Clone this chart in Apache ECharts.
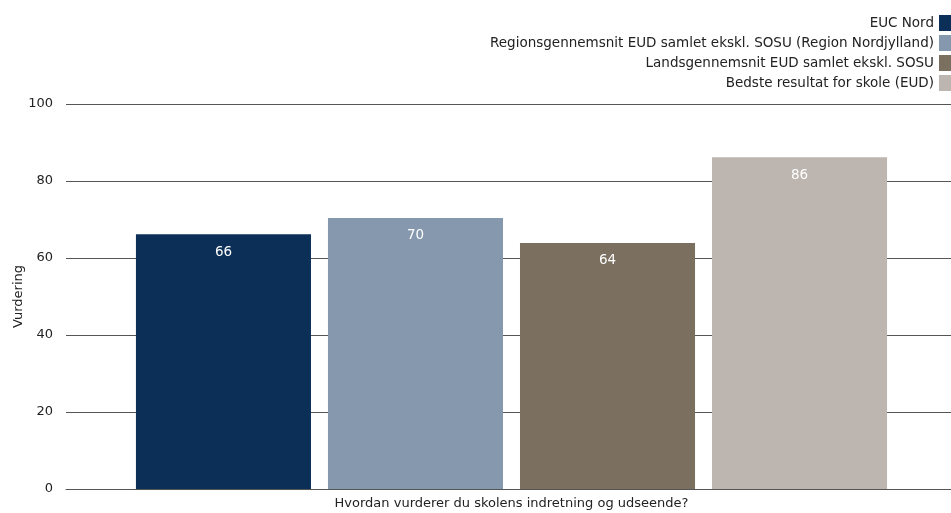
<!DOCTYPE html>
<html><head><meta charset="utf-8">
<script src="https://cdn.jsdelivr.net/npm/echarts@6/dist/echarts.min.js"></script>
<style>html,body{margin:0;padding:0;background:#fff}#c{width:951px;height:513px}</style>
</head><body><div id="c"></div>
<script>
const categories = ["Hvordan vurderer du skolens indretning og udseende?"];
const seriesNames = ["EUC Nord","Regionsgennemsnit EUD samlet ekskl. SOSU (Region Nordjylland)","Landsgennemsnit EUD samlet ekskl. SOSU","Bedste resultat for skole (EUD)"];
const seriesValues = [[66.2],[70.4],[63.9],[86.2]];
const seriesLabels = ["66","70","64","86"];
const colors = ["#0c2f57","#8598ad","#7b6f60","#bdb5af"];
const yTicks = [0,20,40,60,80,100];

const font = "Tahoma, 'DejaVu Sans', sans-serif";
const chart = echarts.init(document.getElementById('c'));
chart.setOption({
  animation:false,
  textStyle:{fontFamily:font},
  legend:{
    orient:'vertical', right:0, top:15, align:'right', padding:0,
    itemWidth:12, itemHeight:16, itemGap:4,
    icon:'rect',
    textStyle:{fontSize:13.5, color:'#222', fontFamily:font},
    data:seriesNames
  },
  grid:{left:66, right:-6, top:104, bottom:24, outerBoundsMode:'none', containLabel:false},
  xAxis:{
    type:'category', data:categories,
    axisLine:{lineStyle:{color:'#555'}},
    axisTick:{show:false},
    axisLabel:{color:'#222', fontSize:13, margin:8, fontFamily:font}
  },
  yAxis:{
    type:'value', min:yTicks[0], max:yTicks[yTicks.length-1], interval:20,
    name:'Vurdering', nameLocation:'middle', nameGap:41, nameMoveOverlap:false,
    nameTextStyle:{color:'#222', fontSize:13, fontFamily:font},
    axisLine:{show:false}, axisTick:{show:false},
    axisLabel:{color:'#222', fontSize:13, margin:13, fontFamily:font},
    splitLine:{lineStyle:{color:'#555', width:1}}
  },
  series: seriesNames.map((n,i)=>({
    name:n, type:'bar', data:seriesValues[i],
    barCategoryGap:'15.7%', barGap:'9.7%',
    itemStyle:{color:colors[i]},
    label:{show:true, position:'insideTop', distance:11, color:'#fff', fontSize:13.5, fontFamily:font,
      formatter:()=>seriesLabels[i]}
  }))
});
</script></body></html>
